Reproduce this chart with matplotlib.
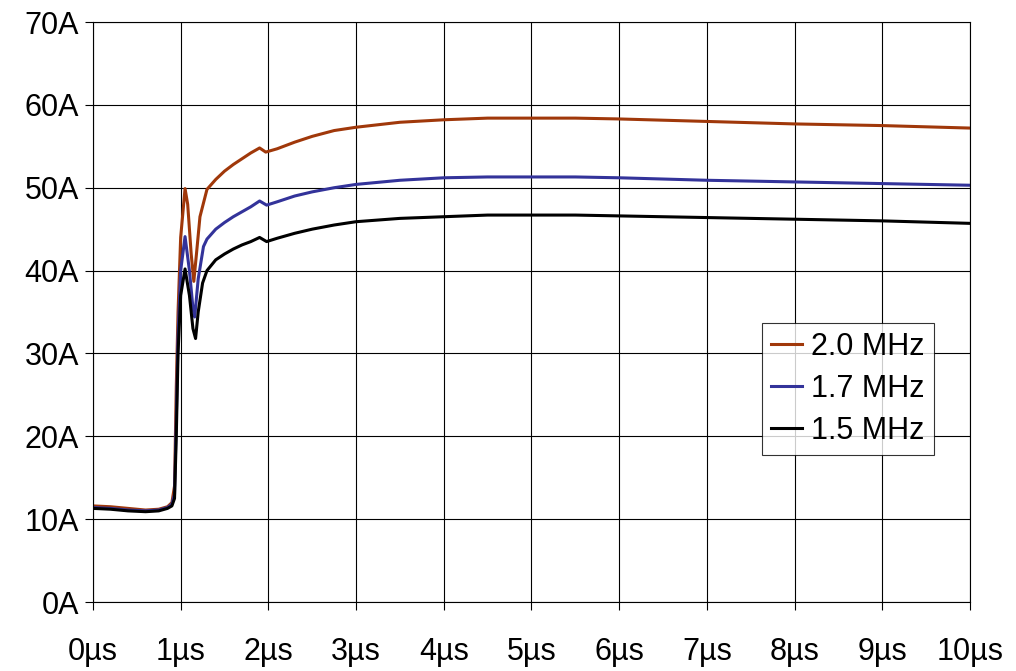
import matplotlib.pyplot as plt

plt.rcParams['font.family'] = ['Liberation Sans', 'DejaVu Sans']

# 2.0 MHz
timeOrange = [0, 0.2, 0.4, 0.6, 0.75, 0.85, 0.9, 0.93, 0.95, 0.97, 1.0, 1.05, 1.08, 1.12, 1.15, 1.18, 1.22, 1.3,
              1.4, 1.5, 1.6, 1.7, 1.8, 1.9, 1.97, 2.1, 2.3, 2.5, 2.75, 3, 3.5, 4, 4.5, 5, 5.5, 6, 7, 8, 9, 10]
ampOrange = [11.6, 11.5, 11.3, 11.1, 11.2, 11.5, 12.0, 14, 26, 35, 44, 49.9, 48, 42, 38.7, 42, 46.5, 49.8,
             51.0, 52.0, 52.8, 53.5, 54.2, 54.8, 54.3, 54.7, 55.5, 56.2, 56.9, 57.3, 57.9, 58.2, 58.4, 58.4, 58.4, 58.3, 58.0, 57.7, 57.5, 57.2]

# 1.7 MHz
timeBlue = [0, 0.2, 0.4, 0.6, 0.75, 0.85, 0.9, 0.93, 0.95, 0.97, 1.0, 1.05, 1.1, 1.14, 1.16, 1.2, 1.26, 1.3,
            1.4, 1.5, 1.6, 1.7, 1.8, 1.9, 1.98, 2.1, 2.3, 2.5, 2.75, 3, 3.5, 4, 4.5, 5, 5.5, 6, 7, 8, 9, 10]
ampBlue = [11.4, 11.3, 11.1, 11.0, 11.1, 11.4, 11.8, 13, 22, 32, 40, 44.1, 40, 35.5, 34.4, 39, 42.9, 43.8,
           45.0, 45.8, 46.5, 47.1, 47.7, 48.4, 47.9, 48.3, 49.0, 49.5, 50.0, 50.4, 50.9, 51.2, 51.3, 51.3, 51.3, 51.2, 50.9, 50.7, 50.5, 50.3]

# 1.5 MHz
timeBlack = [0, 0.2, 0.4, 0.6, 0.75, 0.85, 0.9, 0.93, 0.95, 0.97, 1.0, 1.05, 1.1, 1.14, 1.17, 1.2, 1.25, 1.3,
             1.4, 1.5, 1.6, 1.7, 1.8, 1.9, 1.98, 2.1, 2.3, 2.5, 2.75, 3, 3.5, 4, 4.5, 5, 5.5, 6, 7, 8, 9, 10]
ampBlack = [11.3, 11.2, 11.0, 10.9, 11.0, 11.3, 11.6, 12.5, 20, 30, 37, 40.2, 37, 33, 31.8, 35, 38.5, 40,
            41.3, 42.0, 42.6, 43.1, 43.5, 44.0, 43.5, 43.9, 44.5, 45.0, 45.5, 45.9, 46.3, 46.5, 46.7, 46.7, 46.7, 46.6, 46.4, 46.2, 46.0, 45.7]

xTicks = list(range(0, 11))
yTicks = list(range(0, 71, 10))
xLabels = [f"{t}\u00b5s" for t in xTicks]
yLabels = [f"{a}A" for a in yTicks]

fig = plt.figure(figsize=(10.16, 6.71), dpi=100)
ax = fig.add_axes([0.0915, 0.1028, 0.8632, 0.8644])

ax.plot(timeOrange, ampOrange, color="#A0380A", lw=2.2, label="2.0 MHz")
ax.plot(timeBlue, ampBlue, color="#33339A", lw=2.2, label="1.7 MHz")
ax.plot(timeBlack, ampBlack, color="black", lw=2.2, label="1.5 MHz")

ax.set_xlim(0, 10)
ax.set_ylim(0, 70)
ax.set_xticks(xTicks)
ax.set_xticklabels(xLabels)
ax.set_yticks(yTicks)
ax.set_yticklabels(yLabels)
ax.tick_params(labelsize=22, length=6, width=0.8, color="black")
ax.tick_params(axis="x", pad=19)
ax.tick_params(axis="y", pad=4)
ax.grid(True, color="black", lw=0.8)
for spine in ax.spines.values():
    spine.set_color("black")
    spine.set_linewidth(0.8)

legend = ax.legend(loc="lower left", bbox_to_anchor=(0.763, 0.253), fontsize=22, frameon=True,
                   fancybox=False, edgecolor="black", handlelength=1.0, handletextpad=0.3,
                   borderpad=0.3, labelspacing=0.4, borderaxespad=0)
legend.get_frame().set_linewidth(0.8)

fig.savefig("out.png", dpi=100, facecolor="white")
